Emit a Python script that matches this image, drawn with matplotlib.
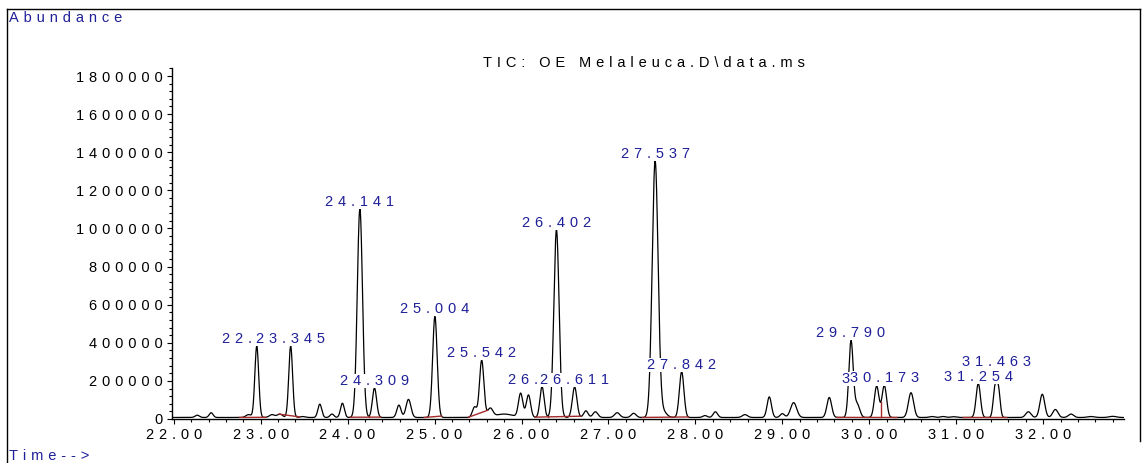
import numpy as np
import matplotlib.pyplot as plt
from matplotlib.lines import Line2D
from matplotlib.ticker import MultipleLocator

plt.rcParams['font.family'] = ['Liberation Sans', 'DejaVu Sans']

# peaks: retention time (min), apex height, width (sigma, min)
peak_rt = [22.27, 22.43, 22.86, 22.955, 23.13, 23.22, 23.345, 23.48, 23.68, 23.82,
           23.94, 24.141, 24.309, 24.59, 24.70, 25.004, 25.46, 25.542, 25.64, 25.80,
           25.99, 26.08, 26.236, 26.402, 26.611, 26.74, 26.85, 27.10, 27.29, 27.537,
           27.63, 27.842, 28.11, 28.23, 28.57, 28.85, 29.00, 29.13, 29.54, 29.790,
           29.86, 30.085, 30.173, 30.48, 30.72, 30.85, 30.97, 31.254, 31.445, 31.485,
           31.83, 31.99, 32.14, 32.32, 32.55, 32.80]
peak_height = [12000, 25000, 15000, 375000, 15000, 18000, 375000, 5000, 70000, 18000,
               75000, 1095000, 155000, 65000, 95000, 530000, 55000, 300000, 45000, 18000,
               125000, 118000, 162000, 985000, 160000, 35000, 30000, 25000, 22000, 1345000,
               30000, 240000, 10000, 30000, 15000, 108000, 20000, 78000, 105000, 400000,
               70000, 165000, 168000, 130000, 5000, 5000, 4000, 178000, 150000, 150000,
               30000, 122000, 42000, 18000, 5000, 6000]
peak_sigma = [0.025, 0.022, 0.03, 0.022, 0.03, 0.03, 0.022, 0.03, 0.022, 0.022,
              0.022, 0.03, 0.024, 0.024, 0.028, 0.026, 0.025, 0.025, 0.03, 0.1,
              0.025, 0.025, 0.024, 0.03, 0.026, 0.025, 0.028, 0.03, 0.028, 0.034,
              0.04, 0.026, 0.025, 0.025, 0.03, 0.025, 0.025, 0.035, 0.027, 0.025,
              0.03, 0.026, 0.026, 0.03, 0.03, 0.03, 0.03, 0.025, 0.02, 0.02,
              0.03, 0.028, 0.03, 0.03, 0.04, 0.04]
baseline_level = 8000

# labelled peaks
label_rt = [22.955, 23.345, 24.141, 24.309, 25.004, 25.542, 26.236, 26.402, 26.611,
            27.537, 27.842, 29.790, 30.085, 30.173, 31.254, 31.463]
label_text = ['22.955', '23.345', '24.141', '24.309', '25.004', '25.542', '26.236', '26.402',
              '26.611', '27.537', '27.842', '29.790', '30.085', '30.173', '31.254', '31.463']
label_lift = {'31.463': 14}

# integration baselines and drop lines
integ_start = [22.76, 23.21, 24.03, 24.88, 25.39, 26.16, 27.39, 29.63, 31.08]
integ_end = [23.06, 23.45, 24.38, 25.08, 25.61, 26.68, 27.92, 30.32, 31.58]
drop_rt = [24.25, 26.31, 26.51, 29.95, 30.13, 31.37]

yticks = np.arange(0, 1800001, 200000)
xticks = np.arange(22, 33, 1)

blue = '#1f1f99'
red = '#a52a2a'
fs = 10.5


def spaced(s):
    return '\u2004'.join(s)


t = np.arange(21.98, 32.93, 0.002)
trace = np.full_like(t, baseline_level, dtype=float)
for rt, h, s in zip(peak_rt, peak_height, peak_sigma):
    trace += h * np.exp(-0.5 * ((t - rt) / s) ** 2)

fig = plt.figure(figsize=(11.44, 4.63), dpi=100)
ax = fig.add_axes([172 / 1144, 44 / 463, (1124 - 172) / 1144, (419 - 68) / 463])

ax.plot(t, trace, color='black', lw=0.9, zorder=2)

# integration marks
for a, b in zip(integ_start, integ_end):
    ya = np.interp(a, t, trace)
    yb = np.interp(b, t, trace)
    ax.plot([a, b], [ya, yb], color=red, lw=1, zorder=3)
    for d in drop_rt:
        if a < d < b:
            yd = ya + (yb - ya) * (d - a) / (b - a)
            ax.plot([d, d], [yd, np.interp(d, t, trace)], color=red, lw=1, zorder=3)

# peak labels, later ones cover earlier ones
for i, (rt, txt) in enumerate(zip(label_rt, label_text)):
    near = (t > rt - 0.02) & (t < rt + 0.02)
    top = trace[near].max()
    ax.annotate(spaced(txt), xy=(rt, top), xytext=(0, 3 + label_lift.get(txt, 0)),
                textcoords='offset pixels', ha='center', va='baseline',
                color=blue, fontsize=fs, zorder=5 + i, annotation_clip=False,
                bbox=dict(facecolor='white', edgecolor='none', pad=0))

ax.set_xlim(21.98, 32.93)
ax.set_ylim(0, 1842000)
ax.spines['top'].set_visible(False)
ax.spines['right'].set_visible(False)
ax.spines['left'].set_linewidth(1)
ax.spines['bottom'].set_linewidth(1)

ax.set_yticks(yticks)
ax.set_yticklabels([spaced(str(v)) for v in yticks])
ax.set_xticks(xticks)
ax.set_xticklabels([spaced('%.2f' % v) for v in xticks])
ax.yaxis.set_minor_locator(MultipleLocator(40000))
ax.xaxis.set_minor_locator(MultipleLocator(0.2))
ax.tick_params(which='major', length=3.6, width=0.8, labelsize=fs, pad=3)
ax.tick_params(which='minor', length=2.2, width=0.8)

fig.text(9 / 1144, 1 - 22 / 463, spaced('Abundance'), color=blue, fontsize=fs, va='baseline')
fig.text(644 / 1144, 1 - 67 / 463, spaced('TIC: OE Melaleuca.D\\data.ms'),
         color='black', fontsize=fs, ha='center', va='baseline')
fig.text(9 / 1144, 1 - 460 / 463, spaced('Time-->'), color=blue, fontsize=fs, va='baseline')

# outer frame
fx0, fx1, fy1 = 7 / 1144, 1140 / 1144, 1 - 9 / 463
fig.add_artist(Line2D([fx0, fx1], [fy1, fy1], color='black', lw=1))
fig.add_artist(Line2D([fx0, fx0], [0, fy1], color='black', lw=1))
fig.add_artist(Line2D([fx1, fx1], [1 - 441 / 463, fy1], color='black', lw=1))

fig.savefig('out.png', dpi=100)
